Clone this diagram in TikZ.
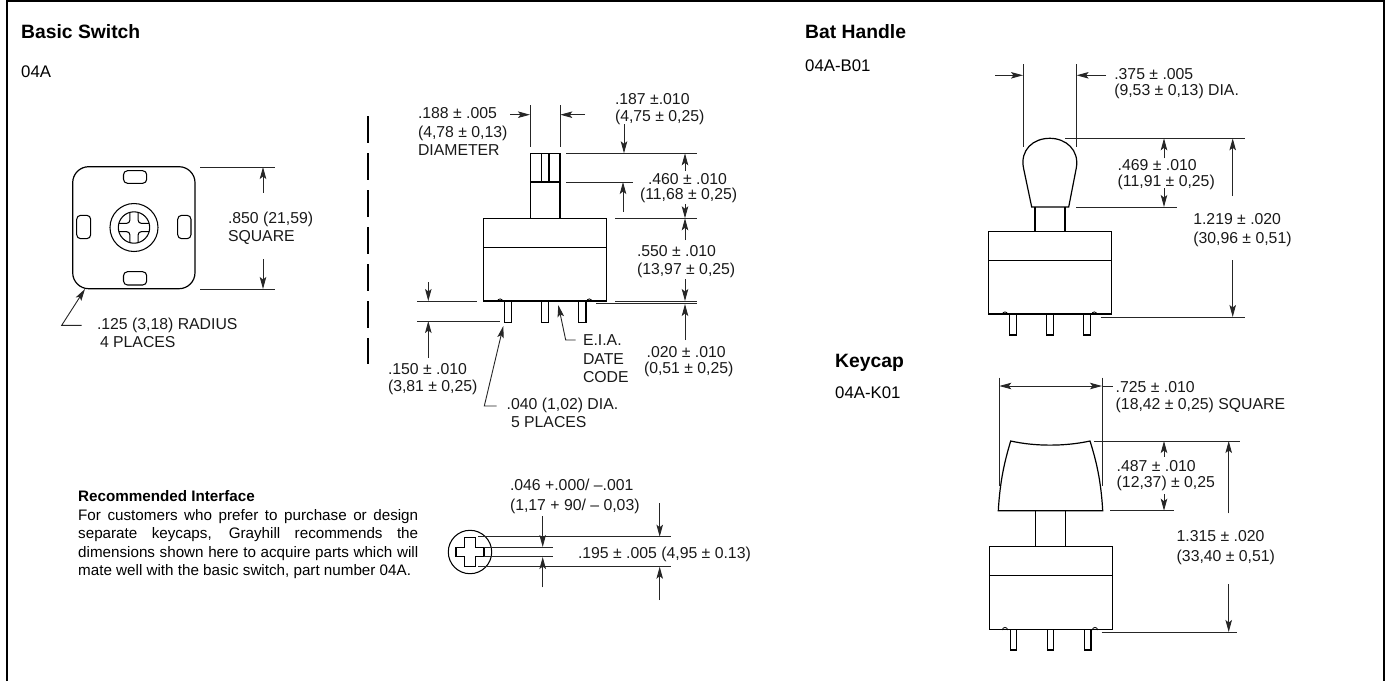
\documentclass[tikz,border=0pt]{standalone}
\usepackage{fontspec}
\setmainfont{Liberation Sans}
\usetikzlibrary{arrows.meta}
\tikzset{
  x=1pt,y=-1pt,
  obj/.style={line width=1.2pt,line join=miter},
  thin obj/.style={line width=1.05pt},
  ext/.style={line width=0.9pt,draw=black!85},
  arr/.style={line width=0.9pt,draw=black!85,-{Stealth[length=12pt,width=6.5pt,inset=2.5pt]}},
  dim/.style={anchor=base west,inner sep=0pt,outer sep=0pt,font=\fontsize{15.8}{18}\selectfont,text=black!90},
  head/.style={anchor=base west,inner sep=0pt,font=\fontsize{19.3}{22}\bfseries\selectfont},
  sub/.style={anchor=base west,inner sep=0pt,font=\fontsize{16.8}{20}\selectfont},
  para/.style={anchor=north west,inner sep=0pt,text width=340pt,align=justify,font=\fontsize{15.2}{18.5}\selectfont}
}
\newcommand{\swpin}[4]{\draw[thin obj] (#1,#3) -- (#1,#4) -- (#2,#4) -- (#2,#3);}
\begin{document}
\begin{tikzpicture}
\useasboundingbox (0,0) rectangle (1385,681);
% frame
\draw[line width=2.2pt] (7,681) -- (7,0.8) -- (1383.8,0.8) -- (1383.8,681);
% headings
\node[head] (t1) at (21,38) {Basic Switch};
\node[sub] (s1) at (21,77) {04A};
\node[head] (t2) at (805,38) {Bat Handle};
\node[sub] (s2) at (805,71) {04A-B01};
\node[head] (t3) at (835,367) {Keycap};
\node[sub] (s3) at (835,398) {04A-K01};

% ---- top view
\draw[obj,rounded corners=16pt] (72.7,166.7) rectangle (195,288.7);
\draw[thin obj,rounded corners=4pt] (123.5,170.7) rectangle (146.7,183.3);
\draw[thin obj,rounded corners=4pt] (123.5,271.7) rectangle (146.7,285);
\draw[thin obj,rounded corners=4pt] (76.7,215.3) rectangle (90.7,238.7);
\draw[thin obj,rounded corners=4pt] (177.7,215.3) rectangle (191,238.7);
\draw[thin obj] (134,227.5) circle[radius=24];
\draw[thin obj] (134,227.5) circle[radius=15.7];
\begin{scope}[shift={(134,227.5)},thin obj,rounded corners=3pt]
\draw (4.2,-15.1) -- (4.2,-4.2) -- (15.1,-4.2);
\draw (-4.2,-15.1) -- (-4.2,-4.2) -- (-15.1,-4.2);
\draw (4.2,15.1) -- (4.2,4.2) -- (15.1,4.2);
\draw (-4.2,15.1) -- (-4.2,4.2) -- (-15.1,4.2);
\end{scope}
\draw[ext] (200,167) -- (275,167);
\draw[ext] (200,289) -- (275,289);
\draw[arr] (263,192.7) -- (263,167);
\draw[arr] (263,259) -- (263,289);
\node[dim] (a1) at (228,223) {.850 (21,59)};
\node[dim] (a2) at (228,241) {SQUARE};
\coordinate (r1) at (81.7,325.3);
\coordinate (r2) at (61.7,325.3);
\coordinate (r3) at (85,289);
\draw[arr] (r1) -- (r2) -- (r3);
\node[dim] (a3) at (97,329) {.125 (3,18) RADIUS};
\node[dim] (a4) at (100,347.7) {4 PLACES};

% dashed divider
\draw[line width=2pt,dash pattern=on 27pt off 10pt] (368,116) -- (368,364);

% ---- basic switch side view
\draw[obj] (530.3,218.3) -- (530.3,153.3) -- (560,153.3) -- (560,218.3);
\draw[thin obj] (530.3,182) -- (560,182);
\draw[thin obj] (541.3,153.3) -- (541.3,182);
\draw[thin obj] (549,153.3) -- (549,182);
\draw[obj] (483.7,218.3) rectangle (606.7,301);
\draw[thin obj] (483.7,247.3) -- (606.7,247.3);
\draw[line width=0.8pt] (497.5,301.5) arc[start angle=180,end angle=360,radius=2.6];
\draw[line width=0.8pt] (586.7,301.5) arc[start angle=180,end angle=360,radius=2.6];
\swpin{504.3}{511.7}{301}{322.3}
\swpin{541.3}{548.7}{301}{322.3}
\swpin{578.7}{586}{301}{322.3}
\draw[ext] (530.3,105) -- (530.3,146.7);
\draw[ext] (560,105) -- (560,146.7);
\draw[arr] (510,114.7) -- (530,114.7);
\draw[arr] (585,114.7) -- (560.3,114.7);
\node[dim] (b1) at (418,118) {.188 ± .005};
\node[dim] (b2) at (418,137) {(4,78 ± 0,13)};
\node[dim] (b3) at (418,155) {DIAMETER};
\node[dim] (b4) at (615,104) {.187 ±.010};
\node[dim] (b5) at (615,121.7) {(4,75 ± 0,25)};
\draw[ext] (566,153.3) -- (696.7,153.3);
\draw[ext] (566,182) -- (632.7,182);
\draw[ext] (615,218.3) -- (696.7,218.3);
\draw[arr] (624,124) -- (624,153.3);
\draw[arr] (623,211.7) -- (623,182);
\draw[arr] (685,170.7) -- (685,153.3);
\draw[arr] (685,204) -- (685,218.3);
\draw[arr] (685,240) -- (685,218.3);
\node[dim] (b6) at (648,184) {.460 ± .010};
\node[dim] (b7) at (640,199) {(11,68 ± 0,25)};
\node[dim] (b8) at (637,256.7) {.550 ± .010};
\node[dim] (b9) at (637,274) {(13,97 ± 0,25)};
\draw[arr] (685,279) -- (685,301);
\draw[ext] (615,301) -- (696.7,301);
\draw[ext] (596,303.7) -- (696.7,303.7);
\draw[arr] (685,340) -- (685,304);
\node[dim] (b10) at (646.7,357) {.020 ± .010};
\node[dim] (b11) at (644,373) {(0,51 ± 0,25)};
\coordinate (e1) at (575.7,340);
\coordinate (e2) at (565.7,340);
\coordinate (e3) at (558.3,305);
\draw[arr] (e1) -- (e2) -- (e3);
\node[dim] (b12) at (583,345) {E.I.A.};
\node[dim] (b13) at (583,364) {DATE};
\node[dim] (b14) at (583,382.7) {CODE};
\draw[ext] (417.3,301) -- (477.3,301);
\draw[ext] (417.3,321) -- (500,321);
\draw[arr] (428.3,282.3) -- (428.3,301);
\draw[arr] (428.3,358) -- (428.3,321);
\node[dim] (b15) at (388,374) {.150 ± .010};
\node[dim] (b16) at (388,391) {(3,81 ± 0,25)};
\coordinate (d1) at (496.7,406);
\coordinate (d2) at (484.3,406);
\coordinate (d3) at (503.3,326);
\draw[arr] (d1) -- (d2) -- (d3);
\node[dim] (b17) at (506.7,409) {.040 (1,02) DIA.};
\node[dim] (b18) at (511,427.7) {5 PLACES};

% ---- recommended interface
\node[para] (p1) at (78,490.5) {{\bfseries Recommended Interface}\\
For customers who prefer to purchase or design\linebreak
separate keycaps, Grayhill recommends the\linebreak
dimensions shown here to acquire parts which will\linebreak
mate well with the basic switch, part number 04A.};
\draw[thin obj] (470,552) circle[radius=21.7];
\draw[thin obj] (464.7,537.3) -- (475.3,537.3) -- (475.3,547.3) -- (484,547.3) -- (484,556.7) -- (475.3,556.7) -- (475.3,566.7) -- (464.7,566.7) -- (464.7,556.7) -- (456,556.7) -- (456,547.3) -- (464.7,547.3) -- cycle;
\draw[ext] (478.3,536.7) -- (670.7,536.7);
\draw[ext] (478.3,566.7) -- (670.7,566.7);
\draw[ext] (484,547.3) -- (552.7,547.3);
\draw[ext] (484,556.7) -- (552.7,556.7);
\draw[arr] (542.7,516) -- (542.7,547);
\draw[arr] (542.7,587.3) -- (542.7,557);
\draw[arr] (659.7,503.3) -- (659.7,536.7);
\draw[arr] (659.7,600) -- (659.7,566.7);
\node[dim] (c1) at (510,490.7) {.046 +.000/ –.001};
\node[dim] (c2) at (510,510.7) {(1,17 + 90/ – 0,03)};
\node[dim] (c3) at (578,558) {.195 ± .005 (4,95 ± 0.13)};

% ---- bat handle
\draw[obj] (1031.7,207) -- (1023.5,168) .. controls (1020,150) and (1033,138.3) .. (1049.8,138.3) .. controls (1066,138.3) and (1079.5,150) .. (1076.3,168) -- (1068.7,207) -- cycle;
\draw[obj] (1035,207) -- (1035,231.3);
\draw[obj] (1065,207) -- (1065,231.3);
\draw[obj] (988.7,231.3) rectangle (1111.7,314);
\draw[thin obj] (988.7,260.7) -- (1111.7,260.7);
\draw[line width=0.8pt] (1002.4,314.5) arc[start angle=180,end angle=360,radius=2.6];
\draw[line width=0.8pt] (1091.7,314.5) arc[start angle=180,end angle=360,radius=2.6];
\swpin{1009.3}{1016.7}{314}{335}
\swpin{1046.3}{1053.7}{314}{335}
\swpin{1083.3}{1090.7}{314}{335}
\draw[ext] (1023.3,64) -- (1023.3,147.3);
\draw[ext] (1076.3,64) -- (1076.3,147.3);
\draw[arr] (995,75.3) -- (1023,75.3);
\draw[arr] (1106,75.3) -- (1076.6,75.3);
\node[dim] (h1) at (1114.3,79.3) {.375 ± .005};
\node[dim] (h2) at (1114.3,95) {(9,53 ± 0,13) DIA.};
\draw[ext] (1065.3,138.3) -- (1245,138.3);
\draw[ext] (1076,207) -- (1176.7,207);
\draw[ext] (1100.7,317) -- (1245,317);
\draw[arr] (1164,158.3) -- (1164,138.3);
\draw[arr] (1164,188.3) -- (1164,207);
\draw[arr] (1232.7,196) -- (1232.7,138.3);
\draw[arr] (1232.7,260) -- (1232.7,317);
\node[dim] (h3) at (1117.7,170) {.469 ± .010};
\node[dim] (h4) at (1117.7,186) {(11,91 ± 0,25)};
\node[dim] (h5) at (1193.3,224) {1.219 ± .020};
\node[dim] (h6) at (1193.3,243.3) {(30,96 ± 0,51)};

% ---- keycap
\draw[obj] (998.3,510.7) .. controls (1000,480) and (1005,460) .. (1010.7,441) .. controls (1035,446.5) and (1065,446.5) .. (1090,441) .. controls (1096,460) and (1101,480) .. (1102.7,510.7) -- cycle;
\draw[obj] (1035.7,510.7) -- (1035.7,546.3);
\draw[obj] (1065.3,510.7) -- (1065.3,546.3);
\draw[obj] (989.3,546.3) rectangle (1112.3,629.3);
\draw[thin obj] (989.3,575.7) -- (1112.3,575.7);
\draw[line width=0.8pt] (1002.4,630) arc[start angle=180,end angle=360,radius=2.6];
\draw[line width=0.8pt] (1092.4,630) arc[start angle=180,end angle=360,radius=2.6];
\swpin{1010.3}{1016.7}{629.3}{650}
\swpin{1047.3}{1053.7}{629.3}{650}
\swpin{1084.3}{1091}{629.3}{650}
\draw[ext] (999,377.7) -- (999,485.7);
\draw[ext] (1102.3,377.7) -- (1102.3,485.7);
\draw[arr] (1050,386) -- (999.3,386);
\draw[arr] (1050,386) -- (1102,386);
\draw[ext] (1102,386) -- (1113.3,386);
\node[dim] (k1) at (1115.7,392.3) {.725 ± .010};
\node[dim] (k2) at (1115.7,409) {(18,42 ± 0,25) SQUARE};
\draw[ext] (1094,441) -- (1240,441);
\draw[ext] (1110,510.7) -- (1174.3,510.7);
\draw[ext] (1101.7,632) -- (1236.7,632);
\draw[arr] (1164,456.7) -- (1164,441);
\draw[arr] (1164,494.3) -- (1164,510.7);
\draw[arr] (1228.7,513.3) -- (1228.7,441);
\draw[arr] (1228.7,584) -- (1228.7,632);
\node[dim] (k3) at (1116.7,471) {.487 ± .010};
\node[dim] (k4) at (1116.7,487.7) {(12,37) ± 0,25};
\node[dim] (k5) at (1176.7,541) {1.315 ± .020};
\node[dim] (k6) at (1176.7,561.7) {(33,40 ± 0,51)};
\end{tikzpicture}
\end{document}
